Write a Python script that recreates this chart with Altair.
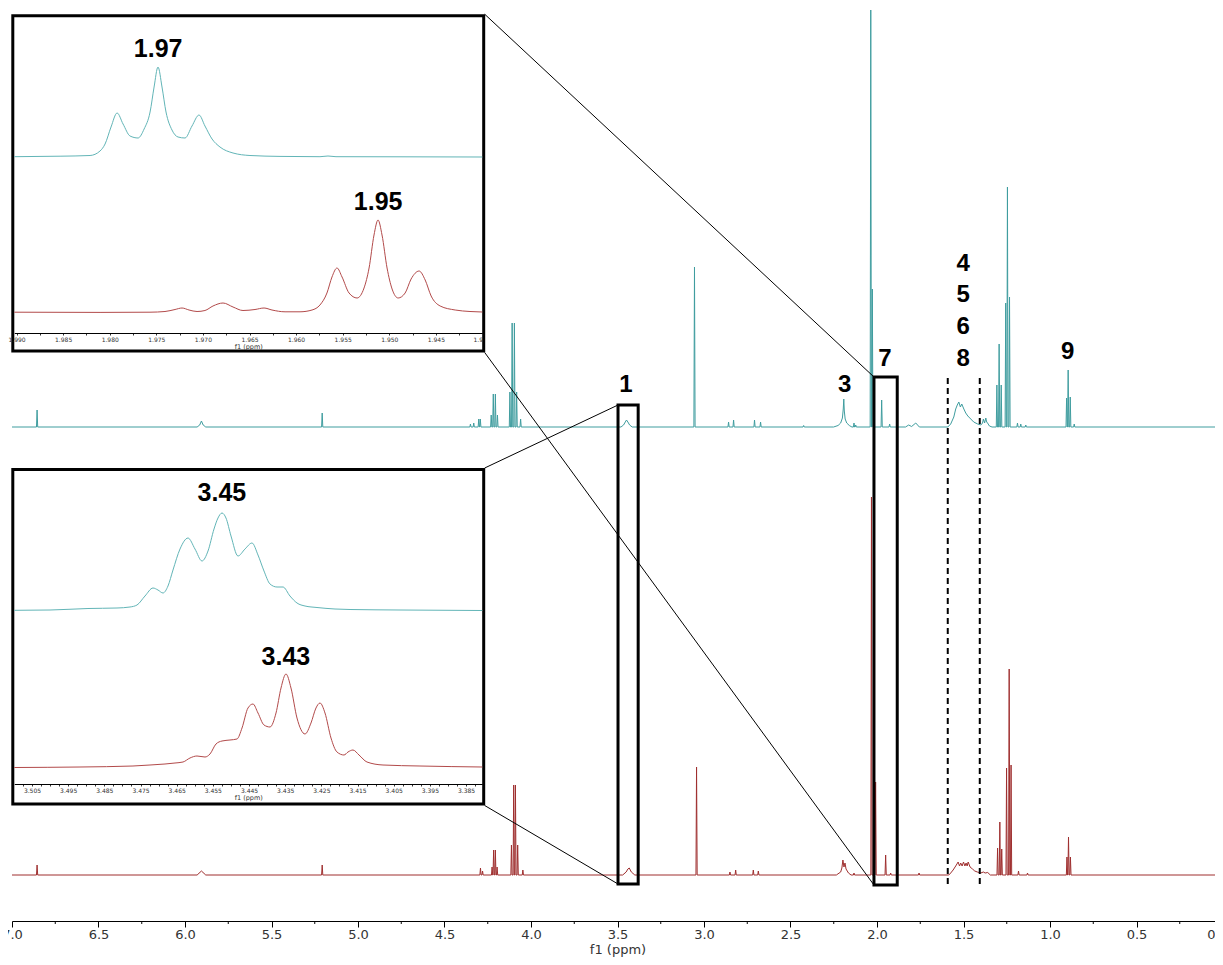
import altair as alt
import pandas as pd

# ---------------------------------------------------------------- data
# main 1H spectrum, upper (teal) trace: sharp lines (ppm, height)
TEAL_LINE_PPM = [6.855, 5.207, 4.350, 4.331, 4.302, 4.293, 4.230, 4.218, 4.206, 4.194,
                 4.122, 4.109, 4.096, 4.083, 4.060, 3.055, 2.858, 2.829, 2.708, 2.673,
                 2.424, 2.133, 2.123, 2.036, 2.027, 1.973, 1.927, 1.307, 1.294, 1.282,
                 1.256, 1.246, 1.234, 1.188, 1.169, 1.140, 0.904, 0.895, 0.883, 0.860]
TEAL_LINE_H = [17, 14, 3, 4, 8, 8, 12, 33, 33, 12,
               35, 104, 104, 35, 8, 160, 5, 7, 7, 5,
               1.5, 4, 2, 417, 138, 27, 3, 42, 83, 42,
               124, 240, 130, 4, 3, 2, 29, 57, 30, 3]
# broad multiplets of the teal trace (ppm, height)
TEAL_BROAD_PPM = [5.93, 5.915, 5.905, 5.895, 5.88,
                  3.48, 3.465, 3.455, 3.448, 3.44, 3.43, 3.415,
                  2.251, 2.225, 2.21, 2.2, 2.195, 2.192, 2.189, 2.184, 2.175, 2.16, 2.145,
                  1.835, 1.817, 1.80, 1.776, 1.755,
                  1.591, 1.574, 1.556, 1.545, 1.536, 1.527, 1.518, 1.51, 1.498, 1.487,
                  1.475, 1.458, 1.441, 1.418, 1.40, 1.39, 1.385, 1.378, 1.371, 1.366,
                  1.361, 1.35, 1.335]
TEAL_BROAD_H = [0, 2, 6, 2, 0,
                0, 2, 5, 7, 5, 2, 0,
                0, 1.5, 4, 9, 18, 28, 16, 8, 4, 1.5, 0,
                0, 2, 0.5, 4, 0,
                0, 3, 10, 18, 22, 25, 20, 23, 18, 14,
                11, 8, 5, 3, 2, 4, 8, 4, 9, 5,
                4, 1, 0]

# lower (dark red) trace
RED_LINE_PPM = [6.855, 5.207, 4.292, 4.280, 4.225, 4.216, 4.206, 4.196, 4.113, 4.100,
                4.090, 4.077, 4.047, 3.043, 2.850, 2.817, 2.715, 2.686, 2.133, 2.032,
                2.008, 1.950, 1.921, 1.757, 1.303, 1.290, 1.279, 1.251, 1.236, 1.225,
                1.182, 1.130, 0.902, 0.893, 0.882]
RED_LINE_H = [10, 10, 7, 4, 8, 25, 25, 8, 30, 90,
              90, 30, 5, 108, 3, 5, 5, 4, 2, 378,
              93, 20, 2, 2, 27, 53, 26, 107, 206, 110,
              4, 2, 18, 38, 18]
RED_BROAD_PPM = [5.93, 5.905, 5.88,
                 3.47, 3.45, 3.44, 3.432, 3.42, 3.40,
                 2.235, 2.21, 2.203, 2.197, 2.191, 2.185, 2.179, 2.165, 2.15,
                 1.585, 1.574, 1.56, 1.545, 1.531, 1.523, 1.516, 1.508, 1.500, 1.492,
                 1.485, 1.479, 1.473, 1.462, 1.448, 1.435, 1.420, 1.40, 1.385, 1.375,
                 1.36, 1.345]
RED_BROAD_H = [0, 4, 0,
               0, 3, 6, 7, 3, 0,
               0, 3, 7, 15, 8, 12, 6, 2, 0,
               0, 2, 5, 9, 13, 9, 12, 9, 13, 9,
               12, 9, 13, 8, 6, 4, 3, 2, 3, 2,
               2.5, 0]

# inset A: 1.99 - 1.94 ppm
INSET_A_TEAL_PPM = [1.99024, 1.98533, 1.98211, 1.98104, 1.98050, 1.97986, 1.97921, 1.97857,
                    1.97782, 1.97696, 1.97631, 1.97567, 1.97524, 1.97482, 1.97439, 1.97396,
                    1.97332, 1.97267, 1.97192, 1.97117, 1.97042, 1.96978, 1.96902, 1.96817,
                    1.96677, 1.96495, 1.96173, 1.95744, 1.95658, 1.95572, 1.94885, 1.94002]
INSET_A_TEAL_H = [0.3, 0.8, 1.5, 6, 13, 30, 44, 33,
                  21, 19, 28, 45, 70, 90, 70, 45,
                  27, 20, 19, 31, 42, 31, 18, 10,
                  4, 1.5, 0.6, 0.3, 1, 0.3, 0.2, 0]
INSET_A_RED_PPM = [1.99024, 1.98104, 1.97568, 1.97407, 1.97299, 1.97224, 1.97149, 1.97063,
                   1.96978, 1.96892, 1.96784, 1.96677, 1.96570, 1.96441, 1.96344, 1.96259,
                   1.96119, 1.95958, 1.95829, 1.95744, 1.95669, 1.95615, 1.95561, 1.95507,
                   1.95432, 1.95346, 1.95271, 1.95217, 1.95164, 1.95121, 1.95078, 1.95024,
                   1.94970, 1.94905, 1.94830, 1.94766, 1.94680, 1.94615, 1.94551, 1.94454,
                   1.94293, 1.94134, 1.94002]
INSET_A_RED_H = [0.8, 0.6, 0.8, 1.5, 3.5, 5, 3, 1.5,
                 2.5, 7, 10, 6, 2.5, 3.5, 5, 3,
                 1.2, 1.2, 3, 8, 20, 36, 45, 36,
                 20, 15, 25, 45, 78, 93, 78, 45,
                 24, 15, 20, 34, 42, 33, 17, 7,
                 3, 1.5, 1]

# inset B: 3.51 - 3.38 ppm
INSET_B_TEAL_PPM = [3.50989, 3.50002, 3.48952, 3.48150, 3.47791, 3.47597, 3.47376, 3.47155,
                    3.47017, 3.46878, 3.46740, 3.46602, 3.46408, 3.46187, 3.45994, 3.45800,
                    3.45634, 3.45468, 3.45358, 3.45247, 3.45137, 3.44998, 3.44805, 3.44611,
                    3.44418, 3.44252, 3.44086, 3.43920, 3.43727, 3.43561, 3.43368, 3.43174,
                    3.42952, 3.42621, 3.42123, 3.41708, 3.40326, 3.38051]
INSET_B_TEAL_H = [0.7, 1.0, 2.5, 3, 4, 6, 15, 23,
                  21, 18, 25, 41, 62, 73, 62, 50,
                  60, 82, 93, 98, 93, 75, 55, 62,
                  68, 56, 40, 27, 24, 24, 15, 8,
                  5, 3.5, 2, 1.5, 1, 0.5]
INSET_B_RED_PPM = [3.50989, 3.49173, 3.47708, 3.47238, 3.46823, 3.46546, 3.46325, 3.46132,
                   3.45938, 3.45717, 3.45579, 3.45413, 3.45247, 3.45026, 3.44832, 3.44694,
                   3.44529, 3.44390, 3.44252, 3.44086, 3.43920, 3.43754, 3.43616, 3.43478,
                   3.43340, 3.43174, 3.42952, 3.42787, 3.42649, 3.42538, 3.42400, 3.42234,
                   3.42068, 3.41874, 3.41764, 3.41626, 3.41460, 3.41239, 3.40797, 3.39774,
                   3.38051]
INSET_B_RED_H = [0.5, 1, 2, 3, 4, 5, 6, 10,
                 12, 11, 14, 24, 27, 28, 29, 40,
                 60, 64, 55, 43, 41, 55, 80, 94,
                 80, 50, 34, 45, 60, 65, 55, 30,
                 16, 13, 16, 18, 13, 6, 3, 2,
                 1]

# peak labels
MAIN_LABELS = ["1", "3", "7", "4", "5", "6", "8", "9"]
INSET_A_LABELS = ["1.97", "1.95"]
INSET_B_LABELS = ["3.45", "3.43"]

# axis ticks
MAIN_MAJOR = [round(7.0 - 0.5 * i, 1) for i in range(15)]
MAIN_MINOR = [round(6.75 - 0.5 * i, 2) for i in range(14)]
INSET_A_TICKS = [round(1.990 - 0.0025 * i, 4) for i in range(21)]
INSET_B_TICKS = [round(3.5075 - 0.0025 * i, 4) for i in range(51)]

# ---------------------------------------------------------------- layout / style
W, H = 1211, 913
VISIBLE_W = 1203                        # part of the plot width that fits in the page
TEAL, RED = "#3f9d9f", "#9f2f2f"
TEAL_I, RED_I = "#62b5b7", "#b24a4a"
TEAL_BASE, RED_BASE = 494, 46          # baselines of the two traces (main y units)
A_TEAL_BASE, A_RED_BASE = 176, 20      # inset A baselines
B_TEAL_BASE, B_RED_BASE = 173, 16      # inset B baselines
SPIKE_HW = 0.0035                       # half base width of a sharp line (ppm)

FRAME_A = (0.8, 7.7, 471.7, 343.0)     # inset frames in pixels (x0, y0, x1, y1)
FRAME_B = (0.8, 461.5, 471.7, 796.0)

AXIS_TEXT = dict(labelFont="DejaVu Sans", labelFontSize=13, labelColor="#333333", labelPadding=1)


def trace(line_ppm, line_h, broad_ppm, broad_h, base):
    pts = [(7.0, 0.0), (0.0, 0.0)]
    for p, h in zip(line_ppm, line_h):
        pts += [(p + SPIKE_HW, 0.0), (p, h), (p - SPIKE_HW, 0.0)]
    pts += list(zip(broad_ppm, broad_h))
    pts.sort(key=lambda t: -t[0])
    return pd.DataFrame({"ppm": [p for p, _ in pts],
                         "y": [base + h for _, h in pts],
                         "i": list(range(len(pts)))})


def curve(ppm, h, base):
    return pd.DataFrame({"ppm": ppm, "y": [base + v for v in h], "i": list(range(len(ppm)))})


one = pd.DataFrame({"k": [0]})

# ---------------------------------------------------------------- main panel
xs = alt.Scale(domain=[7.0, 0.0], nice=False, zero=False)
ys = alt.Scale(domain=[0, H], nice=False, zero=False)
main_axis = alt.Axis(
    values=MAIN_MAJOR, orient="bottom", grid=False, title="f1 (ppm)",
    labelExpr="datum.value == 0 ? '' : format(datum.value, '.1f')",
    tickSize=6, labelOverlap=False, labelFlush=False,
    domainColor="black", tickColor="black", **AXIS_TEXT,
    titleFont="DejaVu Sans", titleFontSize=13, titleFontWeight="normal",
    titleColor="#333333", titlePadding=2,
)
XA = alt.X("ppm:Q", scale=xs, axis=main_axis)
X = alt.X("ppm:Q", scale=xs, axis=None)
Y = alt.Y("y:Q", scale=ys, axis=None)

teal = alt.Chart(trace(TEAL_LINE_PPM, TEAL_LINE_H, TEAL_BROAD_PPM, TEAL_BROAD_H, TEAL_BASE)).mark_line(
    color=TEAL, strokeWidth=1).encode(x=XA, y=Y, order="i:Q")
red = alt.Chart(trace(RED_LINE_PPM, RED_LINE_H, RED_BROAD_PPM, RED_BROAD_H, RED_BASE)).mark_line(
    color=RED, strokeWidth=1).encode(x=X, y=Y, order="i:Q")

minor = alt.Chart(pd.DataFrame({"ppm": MAIN_MINOR})).mark_rule(color="black", strokeWidth=1).encode(
    x=X, y=alt.value(H), y2=alt.value(H + 3))

# the right-most tick label ("0") sits at the visible right edge of the page
zero_axis = alt.Axis(values=[0.0], orient="bottom", grid=False, domain=False, title="",
                     tickSize=6, tickOpacity=0, labelAlign="right", labelFlush=False,
                     labelExpr="'0'", **AXIS_TEXT)
zero_lab = alt.Chart(pd.DataFrame({"ppm": [0.0]})).mark_point(opacity=0).encode(
    x=alt.X("ppm:Q", scale=alt.Scale(domain=[0.0, 0.0001], range=[VISIBLE_W, VISIBLE_W + 1],
                                     nice=False, zero=False), axis=zero_axis))

boxes_df = pd.DataFrame({"ppm": [3.497, 2.0175], "ppm2": [3.3805, 1.883],
                         "y": [516, 544], "y2": [37, 36]})
boxes = alt.Chart(boxes_df).mark_rect(fillOpacity=0, stroke="black", strokeWidth=3).encode(
    x=X, x2="ppm2:Q", y=Y, y2="y2:Q")

dash_df = pd.DataFrame({"ppm": [1.591, 1.406], "y": [543, 543], "y2": [36, 36]})
dashes = alt.Chart(dash_df).mark_rule(color="black", strokeWidth=2, strokeDash=[6, 4]).encode(
    x=X, y=Y, y2="y2:Q")

# connectors: zoom-box corner (data) -> inset corner (pixels)
conn_specs = [
    (2.0175, 544, FRAME_A[2] + 1, FRAME_A[1] - 1.5),
    (2.0175, 36, FRAME_A[2] + 1, FRAME_A[3] + 1.5),
    (3.497, 516, FRAME_B[2] + 1, FRAME_B[1] - 1.5),
    (3.497, 37, FRAME_B[2] + 1, FRAME_B[3] + 1.5),
]
connectors = [
    alt.Chart(pd.DataFrame({"ppm": [p], "y": [v]})).mark_rule(color="black", strokeWidth=1).encode(
        x=X, y=Y, x2=alt.value(px), y2=alt.value(py))
    for p, v, px, py in conn_specs
]

lab_df = pd.DataFrame({"t": MAIN_LABELS,
                       "ppm": [3.451, 2.187, 1.954, 1.502, 1.502, 1.502, 1.502, 0.898],
                       "y": [536, 536, 562, 657.5, 626, 594.5, 562.5, 569.5]})
labels = alt.Chart(lab_df).mark_text(font="Liberation Sans", fontWeight="bold", fontSize=24,
                                     baseline="middle", align="center", color="black").encode(
    x=X, y=Y, text="t:N")

main_parts = [teal, red, minor, zero_lab, boxes, dashes, *connectors, labels]


# ---------------------------------------------------------------- insets
def inset(frame, dom, ticks, label_expr, label_align, offset, ydom, yr,
          t_ppm, t_h, t_base, r_ppm, r_h, r_base, lab_text, lab_ppm, lab_y):
    ax = alt.Axis(values=ticks, orient="bottom", offset=offset, grid=False, zindex=1,
                  labelExpr=label_expr, labelAlign=label_align,
                  labelOverlap=False, labelFlush=False,
                  tickSize=2, tickColor="#333333", domainColor="black", domainWidth=1,
                  labelFont="DejaVu Sans", labelFontSize=6, labelColor="#333333", labelPadding=1,
                  title="f1 (ppm)", titleFont="DejaVu Sans", titleFontSize=6.5,
                  titleFontWeight="normal", titleColor="#333333", titlePadding=1)
    sx = alt.Scale(domain=dom, range=[frame[0] + 1.5, frame[2] - 1.4], nice=False, zero=False)
    sy = alt.Scale(domain=ydom, range=yr, nice=False, zero=False)
    xa = alt.X("ppm:Q", scale=sx, axis=ax)
    xi = alt.X("ppm:Q", scale=sx, axis=None)
    yi = alt.Y("y:Q", scale=sy, axis=None)
    bg = alt.Chart(one).mark_rect(fill="white", stroke="black", strokeWidth=3).encode(
        x=alt.value(frame[0]), x2=alt.value(frame[2]), y=alt.value(frame[1]), y2=alt.value(frame[3]))
    tl = alt.Chart(curve(t_ppm, t_h, t_base)).mark_line(
        color=TEAL_I, strokeWidth=1, interpolate="monotone").encode(x=xa, y=yi, order="i:Q")
    rl = alt.Chart(curve(r_ppm, r_h, r_base)).mark_line(
        color=RED_I, strokeWidth=1, interpolate="monotone").encode(x=xi, y=yi, order="i:Q")
    tx = alt.Chart(pd.DataFrame({"t": lab_text, "ppm": lab_ppm, "y": lab_y})).mark_text(
        font="Liberation Sans", fontWeight="bold", fontSize=25, baseline="middle",
        align="center", color="black").encode(x=xi, y=yi, text="t:N")
    return [bg, tl, rl, tx]


inset_a = inset(
    FRAME_A, [1.99024, 1.94002], INSET_A_TICKS,
    "abs(datum.value - 1.94) < 0.00001 ? '1.9' : "
    "(abs(datum.value*200 - round(datum.value*200)) < 0.001 ? format(datum.value, '.3f') : '')",
    {"condition": {"test": "abs(datum.value - 1.94) < 0.00001", "value": "right"}, "value": "center"},
    -588, [0, 317.3], [325, 7.7],
    INSET_A_TEAL_PPM, INSET_A_TEAL_H, A_TEAL_BASE, INSET_A_RED_PPM, INSET_A_RED_H, A_RED_BASE,
    INSET_A_LABELS, [1.9748, 1.9512], [284, 131])

inset_b = inset(
    FRAME_B, [3.50989, 3.38051], INSET_B_TICKS,
    "(abs(datum.value*1000 - round(datum.value*1000)) < 0.01 && round(datum.value*1000) % 10 == 5)"
    " ? format(datum.value, '.3f') : ''",
    "center",
    -137, [0, 315], [776, 461],
    INSET_B_TEAL_PPM, INSET_B_TEAL_H, B_TEAL_BASE, INSET_B_RED_PPM, INSET_B_RED_H, B_RED_BASE,
    INSET_B_LABELS, [3.4525, 3.4348], [291, 127])

chart = alt.layer(*main_parts, *inset_a, *inset_b).resolve_scale(
    x="independent", y="independent").properties(
    width=W, height=H,
    autosize=alt.AutoSizeParams(type="none"),
    padding={"left": 4, "top": 0, "right": VISIBLE_W - W, "bottom": 36},
).configure_view(strokeWidth=0)

chart.save("out.html", embed_options={"renderer": "svg", "actions": False})
